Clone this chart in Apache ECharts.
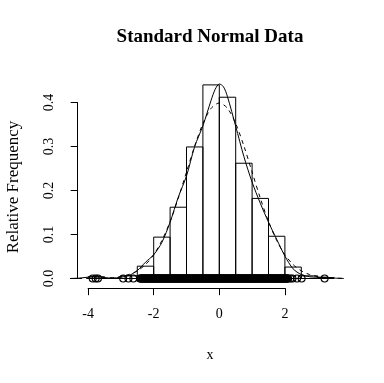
<!DOCTYPE html>
<html>
<head>
<meta charset="utf-8">
<script src="https://cdn.jsdelivr.net/npm/echarts@6/dist/echarts.min.js"></script>
<style>html,body{margin:0;padding:0;background:#fff}#c{width:384px;height:383px}</style>
</head>
<body>
<div id="c"></div>
<script>
// ---- data ----
const binStarts = [-4, -3.5, -3, -2.5, -2, -1.5, -1, -0.5, 0, 0.5, 1, 1.5, 2, 2.5, 3];
const binEnds   = [-3.5, -3, -2.5, -2, -1.5, -1, -0.5, 0, 0.5, 1, 1.5, 2, 2.5, 3, 3.5];
const relFreq   = [0.004, 0, 0.006, 0.028, 0.094, 0.162, 0.299, 0.440, 0.412, 0.262, 0.182, 0.096, 0.026, 0.006, 0.002];

const densX = [-4.55, -4.25, -4.0, -3.75, -3.5, -3.25, -3.0, -2.75, -2.5, -2.25, -2.0, -1.75, -1.5, -1.25, -1.0, -0.75, -0.5, -0.25, -0.125, 0.0, 0.125, 0.25, 0.5, 0.75, 1.0, 1.25, 1.5, 1.75, 2.0, 2.25, 2.5, 2.75, 3.0, 3.25, 3.5, 3.8];
const densY = [0.000, 0.001, 0.003, 0.004, 0.002, 0.001, 0.003, 0.007, 0.018, 0.037, 0.054, 0.082, 0.128, 0.185, 0.233, 0.300, 0.347, 0.405, 0.430, 0.442, 0.436, 0.413, 0.346, 0.277, 0.219, 0.171, 0.128, 0.089, 0.051, 0.022, 0.009, 0.004, 0.003, 0.003, 0.001, 0.000];

const normX = [-4.55, -4.25, -4.0, -3.75, -3.5, -3.25, -3.0, -2.75, -2.5, -2.25, -2.0, -1.75, -1.5, -1.25, -1.0, -0.75, -0.5, -0.25, 0.0, 0.25, 0.5, 0.75, 1.0, 1.25, 1.5, 1.75, 2.0, 2.25, 2.5, 2.75, 3.0, 3.25, 3.5, 3.8];
const normY = [0.0000, 0.0000, 0.0001, 0.0004, 0.0009, 0.0020, 0.0044, 0.0091, 0.0175, 0.0317, 0.0540, 0.0863, 0.1295, 0.1826, 0.2420, 0.3011, 0.3521, 0.3867, 0.3989, 0.3867, 0.3521, 0.3011, 0.2420, 0.1826, 0.1295, 0.0863, 0.0540, 0.0317, 0.0175, 0.0091, 0.0044, 0.0020, 0.0009, 0.0003];

// observations shown as circles along y = 0 (tails read individually, centre is a dense band)
const obsX = [-3.86, -3.77, -3.70, -2.93, -2.77, -2.62,
  -2.42, -2.40, -2.38, -2.36, -2.35, -2.33, -2.31, -2.29, -2.27, -2.26, -2.24, -2.22, -2.20, -2.18, -2.17, -2.15, -2.13, -2.11, -2.09, -2.08, -2.06, -2.04, -2.02, -2.00,
  -1.99, -1.97, -1.95, -1.93, -1.91, -1.90, -1.88, -1.86, -1.84, -1.82, -1.81, -1.79, -1.77, -1.75, -1.73, -1.72, -1.70, -1.68, -1.66, -1.64, -1.63, -1.61, -1.59, -1.57, -1.55, -1.54, -1.52, -1.50,
  -1.48, -1.46, -1.45, -1.43, -1.41, -1.39, -1.37, -1.36, -1.34, -1.32, -1.30, -1.28, -1.27, -1.25, -1.23, -1.21, -1.19, -1.18, -1.16, -1.14, -1.12, -1.10, -1.09, -1.07, -1.05, -1.03, -1.01,
  -1.00, -0.98, -0.96, -0.94, -0.92, -0.91, -0.89, -0.87, -0.85, -0.83, -0.82, -0.80, -0.78, -0.76, -0.74, -0.73, -0.71, -0.69, -0.67, -0.65, -0.64, -0.62, -0.60, -0.58, -0.56, -0.55, -0.53, -0.51,
  -0.49, -0.47, -0.46, -0.44, -0.42, -0.40, -0.38, -0.37, -0.35, -0.33, -0.31, -0.29, -0.28, -0.26, -0.24, -0.22, -0.20, -0.19, -0.17, -0.15, -0.13, -0.11, -0.10, -0.08, -0.06, -0.04, -0.02, -0.01,
  0.01, 0.03, 0.05, 0.07, 0.08, 0.10, 0.12, 0.14, 0.16, 0.17, 0.19, 0.21, 0.23, 0.25, 0.26, 0.28, 0.30, 0.32, 0.34, 0.35, 0.37, 0.39, 0.41, 0.43, 0.44, 0.46, 0.48,
  0.50, 0.52, 0.53, 0.55, 0.57, 0.59, 0.61, 0.62, 0.64, 0.66, 0.68, 0.70, 0.71, 0.73, 0.75, 0.77, 0.79, 0.80, 0.82, 0.84, 0.86, 0.88, 0.89, 0.91, 0.93, 0.95, 0.97, 0.98,
  1.00, 1.02, 1.04, 1.06, 1.07, 1.09, 1.11, 1.13, 1.15, 1.16, 1.18, 1.20, 1.22, 1.24, 1.25, 1.27, 1.29, 1.31, 1.33, 1.34, 1.36, 1.38, 1.40, 1.42, 1.43, 1.45, 1.47, 1.49,
  1.51, 1.52, 1.54, 1.56, 1.58, 1.60, 1.61, 1.63, 1.65, 1.67, 1.69, 1.70, 1.72, 1.74, 1.76, 1.78, 1.79, 1.81, 1.83, 1.85, 1.87, 1.88, 1.90, 1.92, 1.94, 1.96, 1.97, 1.99,
  2.01, 2.03, 2.05, 2.06, 2.08, 2.10,
  2.17, 2.23, 2.37, 2.51, 3.21];

const xTicks = [-4, -2, 0, 2];
const yTicks = [0.0, 0.1, 0.2, 0.3, 0.4];

// ---- layout ----
const X0 = 219.3, XS = 32.8, Y0 = 278.5, YS = 440;
const px = v => X0 + v * XS, py = v => Y0 - v * YS;
const FONT = '"Liberation Serif", "Times New Roman", serif';

const chart = echarts.init(document.getElementById('c'), null, {renderer: 'canvas'});

const plotL = 69, plotR = 345, yMin = -0.022, yMax = 0.46;

const histData = binStarts.map((s, i) => [s, binEnds[i], relFreq[i]]);

chart.setOption({
  animation: false,
  backgroundColor: '#fff',
  grid: [
    {left: plotL, width: plotR - plotL, top: py(yMax), height: py(yMin) - py(yMax)},
    {left: px(xTicks[0]), width: px(xTicks[xTicks.length - 1]) - px(xTicks[0]), top: 200, height: py(yMin) - 200},
    {left: 77.7, width: 100, top: py(yTicks[yTicks.length - 1]), height: py(0) - py(yTicks[yTicks.length - 1])}
  ],
  xAxis: [
    {type: 'value', gridIndex: 0, min: (plotL - X0) / XS, max: (plotR - X0) / XS, show: false},
    {type: 'value', gridIndex: 1, min: xTicks[0], max: xTicks[xTicks.length - 1], interval: 2,
      axisLine: {show: true, lineStyle: {color: '#000', width: 1}},
      axisTick: {show: true, length: 7, lineStyle: {color: '#000'}},
      axisLabel: {color: '#000', fontFamily: FONT, fontSize: 14, margin: 19,
        formatter: v => (v < 0 ? '-' + Math.abs(v) : String(v))},
      splitLine: {show: false}},
    {type: 'value', gridIndex: 2, show: false}
  ],
  yAxis: [
    {type: 'value', gridIndex: 0, min: yMin, max: yMax, show: false},
    {type: 'value', gridIndex: 2, min: yTicks[0], max: yTicks[yTicks.length - 1], interval: 0.1,
      axisLine: {show: true, lineStyle: {color: '#000', width: 1}},
      axisTick: {show: true, length: 7, lineStyle: {color: '#000'}},
      axisLabel: {color: '#000', fontFamily: FONT, fontSize: 14, margin: 21, rotate: 90,
        formatter: v => v.toFixed(1)},
      splitLine: {show: false}},
    {type: 'value', gridIndex: 1, show: false}
  ],
  series: [
    {
      type: 'custom', xAxisIndex: 0, yAxisIndex: 0, data: histData,
      renderItem: (params, api) => {
        const a = api.coord([api.value(0), api.value(2)]);
        const b = api.coord([api.value(1), 0]);
        return {type: 'rect', shape: {x: a[0], y: a[1], width: b[0] - a[0], height: b[1] - a[1]},
          style: {fill: 'none', stroke: '#000', lineWidth: 1}};
      },
      z: 2
    },
    {
      type: 'scatter', xAxisIndex: 0, yAxisIndex: 0,
      data: obsX.map(v => [v, 0]), symbol: 'circle', symbolSize: 7,
      itemStyle: {color: 'rgba(0,0,0,0)', borderColor: '#000', borderWidth: 1.1, opacity: 1},
      z: 3
    },
    {
      type: 'line', xAxisIndex: 0, yAxisIndex: 0, data: densX.map((v, i) => [v, densY[i]]),
      showSymbol: false, smooth: 0.3, lineStyle: {color: '#000', width: 1}, z: 4
    },
    {
      type: 'line', xAxisIndex: 0, yAxisIndex: 0, data: normX.map((v, i) => [v, normY[i]]),
      showSymbol: false, smooth: 0.3, lineStyle: {color: '#000', width: 1, type: [4, 4]}, z: 4
    }
  ],
  graphic: [
    {type: 'text', x: 210, y: 37, style: {text: 'Standard Normal Data', font: 'bold 19px ' + FONT, fill: '#000', align: 'center', verticalAlign: 'middle'}},
    {type: 'text', x: 210, y: 355, style: {text: 'x', font: '14px ' + FONT, fill: '#000', align: 'center', verticalAlign: 'middle'}},
    {type: 'text', x: 14, y: 187, rotation: Math.PI / 2, style: {text: 'Relative Frequency', font: '17px ' + FONT, fill: '#000', align: 'center', verticalAlign: 'middle'}}
  ]
});
</script>
</body>
</html>
